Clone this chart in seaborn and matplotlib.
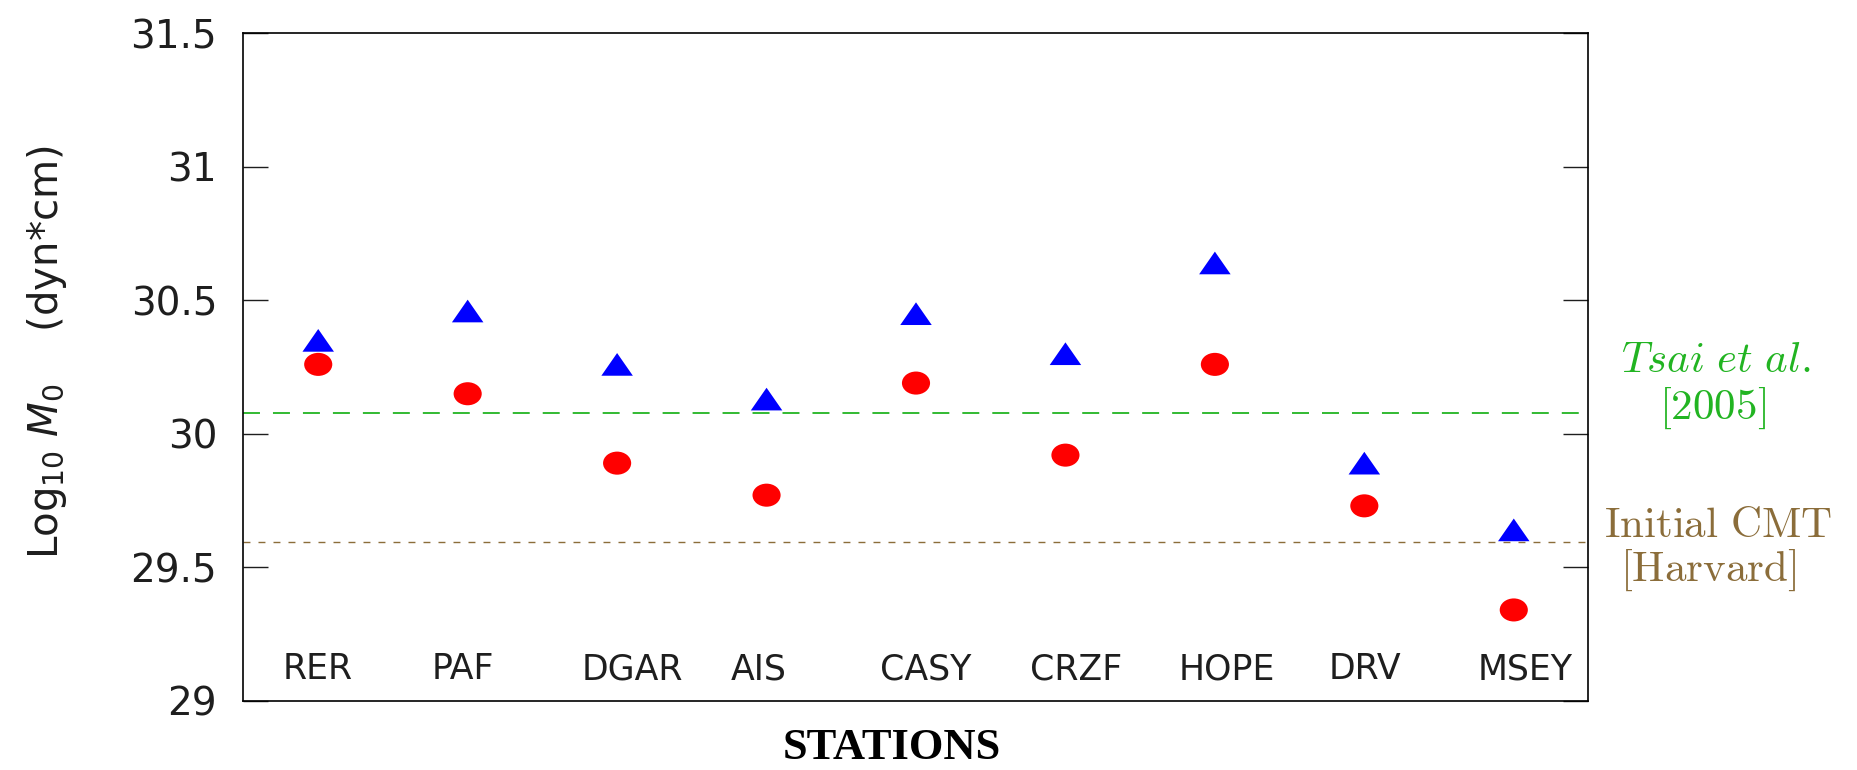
import numpy as np
import pandas as pd
import matplotlib
matplotlib.use("Agg")
import matplotlib.pyplot as plt
import seaborn as sns
from matplotlib.markers import MarkerStyle
from matplotlib.transforms import Affine2D

# ---- data ----
stations = ["RER", "PAF", "DGAR", "AIS", "CASY", "CRZF", "HOPE", "DRV", "MSEY"]
m0_triangle = [30.35, 30.46, 30.26, 30.13, 30.45, 30.30, 30.64, 29.89, 29.64]
m0_circle = [30.26, 30.15, 29.89, 29.77, 30.19, 29.92, 30.26, 29.73, 29.34]
tsai_2005 = 30.077
initial_cmt = 29.594
y_ticks = [29, 29.5, 30, 30.5, 31, 31.5]
y_tick_labels = ["29", "29.5", "30", "30.5", "31", "31.5"]

GREEN = "#22b422"
BROWN = "#8b6d3a"
INK = "#1e1e1e"

sns.set_theme(style="white")
plt.rcParams["font.family"] = ["DejaVu Sans"]

fig = plt.figure(figsize=(18.58, 7.7), dpi=100)
ax = fig.add_axes([243.5 / 1858, 1 - 700.7 / 770, 1345 / 1858, 667.3 / 770])

df = pd.DataFrame({
    "pos": np.arange(len(stations)),
    "station": stations,
    "tri": m0_triangle,
    "circ": m0_circle,
})

# reference lines
ax.axhline(tsai_2005, color=GREEN, lw=1.3, dashes=(9.4, 7.2), zorder=1)
ax.axhline(initial_cmt, color=BROWN, lw=1.0, dashes=(5.0, 5.8), zorder=1)

tri_marker = MarkerStyle("^", transform=Affine2D().scale(1.0, 0.72))
circ_marker = MarkerStyle("o", transform=Affine2D().scale(1.0, 0.82))
sns.scatterplot(data=df, x="pos", y="tri", marker=tri_marker, s=515,
                color="#0000ff", linewidth=0, edgecolor="none",
                legend=False, ax=ax, zorder=3)
sns.scatterplot(data=df, x="pos", y="circ", marker=circ_marker, s=410,
                color="#ff0000", linewidth=0, edgecolor="none",
                legend=False, ax=ax, zorder=3)

# station names inside the axes
for p, name in zip(df["pos"], df["station"]):
    ax.text(p - 0.24, 29.081, name, ha="left", va="baseline",
            fontsize=25, color=INK)

ax.set_xlim(-0.5, len(stations) - 0.5)
ax.set_ylim(29, 31.5)
ax.set_xticks([])
ax.set_yticks(y_ticks, y_tick_labels)
ax.tick_params(axis="y", which="both", direction="in", length=18, width=1.0,
               left=True, right=True, labelleft=True, labelright=False,
               labelsize=28, pad=19, colors=INK, labelcolor=INK)
ax.tick_params(axis="x", bottom=False, top=False)
for sp in ax.spines.values():
    sp.set_visible(True)
    sp.set_color("black")
    sp.set_linewidth(1.2)
ax.grid(False)

ax.set_xlabel("STATIONS", fontfamily="Liberation Serif", fontweight="bold",
              fontsize=32, color="black")
ax.xaxis.set_label_coords(0.482, -0.0878)
ax.xaxis.label.set_verticalalignment("baseline")

ax.set_ylabel(r"Log$_{10}$ $M_0$    (dyn*cm)", fontsize=29, color=INK)
ax.yaxis.set_label_coords(-0.146, 0.5226)
ax.yaxis.label.set_verticalalignment("center")

# annotations to the right of the axes
tr = ax.get_yaxis_transform()
ax.text(1.0948, 30.230, r"$Tsai\ et\ al.$", transform=tr, ha="center",
        va="baseline", fontsize=31, color=GREEN, math_fontfamily="cm",
        clip_on=False)
ax.text(1.0918, 30.056, r"$\mathrm{[2005]}$", transform=tr, ha="center",
        va="baseline", fontsize=31, color=GREEN, math_fontfamily="cm",
        clip_on=False)
ax.text(1.0963, 29.613, r"$\mathrm{Initial\ CMT}$", transform=tr, ha="center",
        va="baseline", fontsize=31, color=BROWN, math_fontfamily="cm",
        clip_on=False)
ax.text(1.0888, 29.451, r"$\mathrm{[Harvard]}$", transform=tr, ha="center",
        va="baseline", fontsize=31, color=BROWN, math_fontfamily="cm",
        clip_on=False)

fig.savefig("out.png", dpi=100, facecolor="white")
